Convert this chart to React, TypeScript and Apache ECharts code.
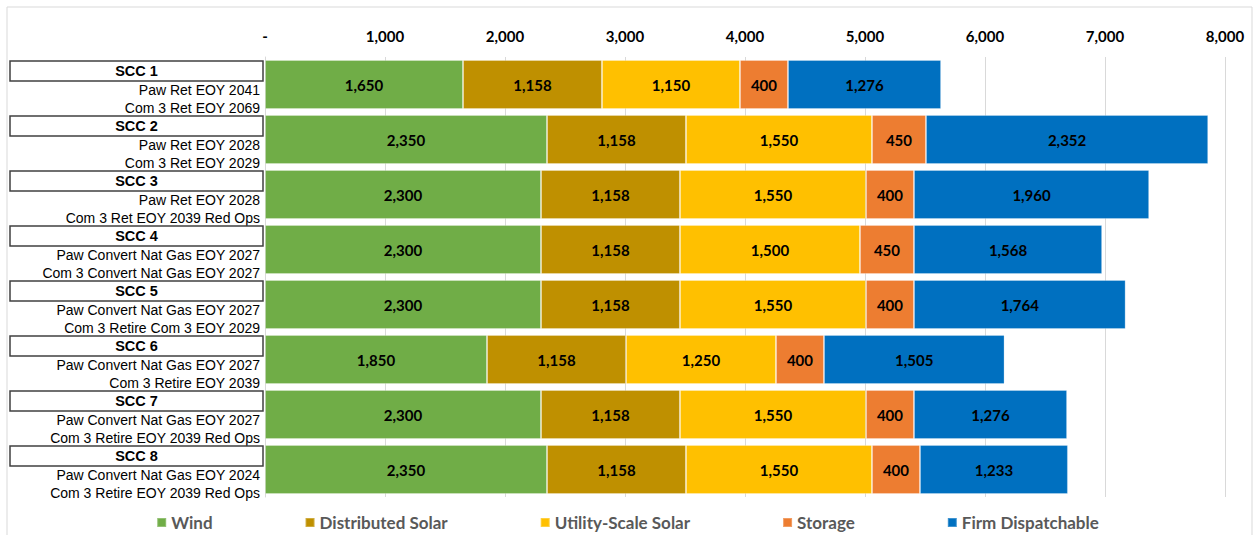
import React, { useEffect, useRef } from "react";
import * as echarts from "echarts";

const scenarios = ["SCC 1", "SCC 2", "SCC 3", "SCC 4", "SCC 5", "SCC 6", "SCC 7", "SCC 8"];
const pawNotes = [
  "Paw Ret EOY 2041",
  "Paw Ret EOY 2028",
  "Paw Ret EOY 2028",
  "Paw Convert Nat Gas EOY 2027",
  "Paw Convert Nat Gas EOY 2027",
  "Paw Convert Nat Gas EOY 2027",
  "Paw Convert Nat Gas EOY 2027",
  "Paw Convert Nat Gas EOY 2024",
];
const comNotes = [
  "Com 3 Ret EOY 2069",
  "Com 3 Ret EOY 2029",
  "Com 3 Ret EOY 2039 Red Ops",
  "Com 3 Convert Nat Gas EOY 2027",
  "Com 3 Retire Com 3 EOY 2029",
  "Com 3 Retire EOY 2039",
  "Com 3 Retire EOY 2039 Red Ops",
  "Com 3 Retire EOY 2039 Red Ops",
];

const wind = [1650, 2350, 2300, 2300, 2300, 1850, 2300, 2350];
const distributedSolar = [1158, 1158, 1158, 1158, 1158, 1158, 1158, 1158];
const utilityScaleSolar = [1150, 1550, 1550, 1500, 1550, 1250, 1550, 1550];
const storage = [400, 450, 400, 450, 400, 400, 400, 400];
const firmDispatchable = [1276, 2352, 1960, 1568, 1764, 1505, 1276, 1233];

const seriesNames = ["Wind", "Distributed Solar", "Utility-Scale Solar", "Storage", "Firm Dispatchable"];
const seriesData = [wind, distributedSolar, utilityScaleSolar, storage, firmDispatchable];
const seriesColors = ["#70AD47", "#BF9000", "#FFC000", "#ED7D31", "#0070C0"];

const axisMin = 0;
const axisMax = 8000;
const axisStep = 1000;

const fmt = (v: number) => (v === 0 ? "-" : v.toLocaleString("en-US"));

export default function App() {
  const ref = useRef<HTMLDivElement>(null);

  useEffect(() => {
    document.body.style.margin = "0";
    if (!ref.current) return;
    const chart = echarts.init(ref.current, undefined, { renderer: "svg" });
    const valueFont = "Lato, 'Open Sans', sans-serif";
    const labelFont = "'Liberation Sans', Arial, sans-serif";

    chart.setOption({
      animation: false,
      backgroundColor: "#ffffff",
      graphic: [
        {
          type: "rect",
          silent: true,
          shape: { x: 7, y: 7, width: 1245, height: 540 },
          style: { fill: "none", stroke: "#D9D9D9", lineWidth: 1 },
        },
      ],
      grid: { left: 265, right: 30, top: 57, bottom: 38, containLabel: false },
      legend: {
        data: seriesNames,
        top: 509,
        left: "center",
        icon: "rect",
        itemWidth: 9,
        itemHeight: 9,
        itemGap: 92,
        textStyle: { fontFamily: valueFont, fontSize: 17, fontWeight: "bold", color: "#595959" },
      },
      xAxis: {
        type: "value",
        position: "top",
        min: axisMin,
        max: axisMax,
        interval: axisStep,
        axisLine: { show: false },
        axisTick: { show: false },
        splitLine: { show: true, lineStyle: { color: "#D9D9D9", width: 1 } },
        axisLabel: {
          margin: 14,
          formatter: (v: number) => fmt(v),
          fontFamily: valueFont,
          fontSize: 15,
          fontWeight: "bold",
          color: "#000",
        },
      },
      yAxis: {
        type: "category",
        inverse: true,
        data: scenarios,
        axisLine: { show: true, lineStyle: { color: "#D9D9D9", width: 1 } },
        axisTick: { show: false },
        axisLabel: {
          interval: 0,
          margin: 2,
          padding: [9, 0, 0, 0],
          formatter: (v: string, i: number) => `{h|${v}}\n{l|${pawNotes[i]}}\n{l|${comNotes[i]}}`,
          rich: {
            h: {
              width: 253,
              height: 20,
              lineHeight: 20,
              align: "center",
              fontFamily: labelFont,
              fontSize: 14.5,
              fontWeight: "bold",
              color: "#000",
              borderColor: "#404040",
              borderWidth: 1.5,
            },
            l: {
              align: "right",
              lineHeight: 18,
              padding: [0, 3, 0, 0],
              fontFamily: labelFont,
              fontSize: 14,
              color: "#000",
            },
          },
        },
      },
      series: seriesNames.map((name, k) => ({
        name,
        type: "bar",
        stack: "total",
        barWidth: 49,
        data: seriesData[k],
        itemStyle: { color: seriesColors[k], borderColor: "rgba(255,255,255,0.25)", borderWidth: 1 },
        label: {
          show: true,
          position: "inside",
          formatter: (p: any) => fmt(p.value),
          fontFamily: valueFont,
          fontSize: 15,
          fontWeight: "bold",
          color: "#000",
        },
      })),
    });
    return () => chart.dispose();
  }, []);

  return <div ref={ref} style={{ width: 1255, height: 535 }} />;
}
